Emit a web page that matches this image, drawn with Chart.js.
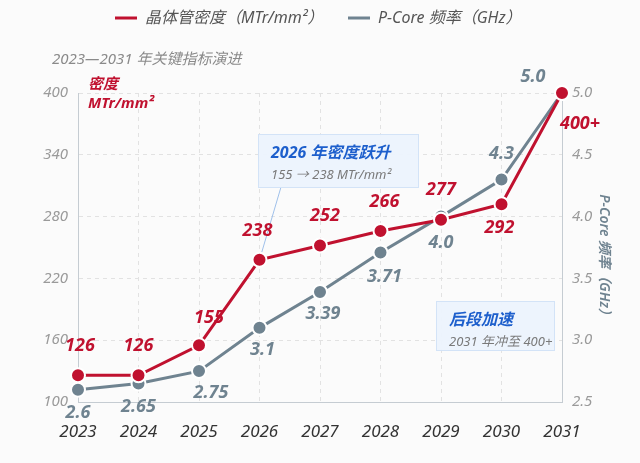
<!DOCTYPE html>
<html><head><meta charset="utf-8">
<script src="https://cdn.jsdelivr.net/npm/chart.js@4"></script>
<style>html,body{margin:0;padding:0;background:#fbfbfb;}#wrap{width:640px;height:463px;position:relative;}</style>
</head><body><div id="wrap"><canvas id="c" width="640" height="463"></canvas></div>
<script>
const years = ['2023','2024','2025','2026','2027','2028','2029','2030','2031'];
const density = [126,126,155,238,252,266,277,292,400];
const densityLabels = ['126','126','155','238','252','266','277','292','400+'];
const freq = [2.6,2.65,2.75,3.1,3.39,3.71,4.0,4.3,5.0];
const freqLabels = ['2.6','2.65','2.75','3.1','3.39','3.71','4.0','4.3','5.0'];
const leftTicks = [100,160,220,280,340,400];
const rightTicks = [2.5,3.0,3.5,4.0,4.5,5.0];

const RED='#c0112f', GRAY='#6f8390', BLUE='#1d5fcc';
const FONT='"Noto Sans", "Noto Sans CJK SC", sans-serif';
// label offsets (style only)
const redOff = [[2,-29],[0,-29],[10,-27],[-2,-29],[5,-30],[4,-29],[0,-30],[-2,24],[18,31]];
const grayOff = [[0,23],[0,23],[12,22],[3,22],[3,22],[4,24],[0,26],[0,-26],[-29,-16]];

const overlay = {
  id:'overlay',
  beforeDatasetsDraw(chart){
    const ctx=chart.ctx;
    const xs=chart.scales.x, ys=chart.scales.y;
    ctx.save();
    ctx.strokeStyle='#9fc0ea'; ctx.lineWidth=1;
    ctx.beginPath(); ctx.moveTo(281,187); ctx.lineTo(xs.getPixelForValue(3), ys.getPixelForValue(density[3])); ctx.stroke();
    const box=(x,y,w,h,t1,t2)=>{
      ctx.fillStyle='rgba(236,243,253,0.95)'; ctx.strokeStyle='#d3e3f7'; ctx.lineWidth=1;
      ctx.fillRect(x,y,w,h); ctx.strokeRect(x+0.5,y+0.5,w,h);
      ctx.textBaseline='middle'; ctx.textAlign='left';
      ctx.fillStyle=BLUE; ctx.font='italic bold 16px '+FONT; ctx.fillText(t1,x+13,y+19);
      ctx.fillStyle='#7a7a7a'; ctx.font='italic 13px '+FONT; ctx.fillText(t2,x+13,y+41);
    };
    box(258,134,160,53,'2026 年密度跃升','155 → 238 MTr/mm²');
    box(436,301,118,49,'后段加速','2031 年冲至 400+');
    ctx.restore();
  },
  afterDatasetsDraw(chart){
    const ctx=chart.ctx;
    ctx.save();
    ctx.textAlign='center'; ctx.textBaseline='middle';
    ctx.font='italic bold 18px '+FONT;
    const m0=chart.getDatasetMeta(0).data, m1=chart.getDatasetMeta(1).data;
    ctx.fillStyle=GRAY;
    m1.forEach((p,i)=>ctx.fillText(freqLabels[i],p.x+grayOff[i][0],p.y+grayOff[i][1]));
    ctx.fillStyle=RED;
    m0.forEach((p,i)=>ctx.fillText(densityLabels[i],p.x+redOff[i][0],p.y+redOff[i][1]));
    ctx.restore();
  },
  afterDraw(chart){
    const ctx=chart.ctx;
    ctx.save();
    ctx.textBaseline='middle'; ctx.textAlign='left';
    ctx.lineWidth=3; ctx.lineCap='butt';
    ctx.strokeStyle=RED; ctx.beginPath(); ctx.moveTo(115,18); ctx.lineTo(137,18); ctx.stroke();
    ctx.strokeStyle=GRAY; ctx.beginPath(); ctx.moveTo(348,18); ctx.lineTo(370,18); ctx.stroke();
    ctx.fillStyle='#555'; ctx.font='italic 16px '+FONT;
    ctx.fillText('晶体管密度（MTr/mm²）',145,18);
    ctx.fillText('P-Core 频率（GHz）',378,18);
    ctx.fillStyle='#8a8a8a'; ctx.font='italic 15px '+FONT;
    ctx.fillText('2023—2031 年关键指标演进',52,60);
    ctx.fillStyle=RED; ctx.font='italic bold 15px '+FONT;
    ctx.fillText('密度',88,85);
    ctx.fillText('MTr/mm²',88,104);
    ctx.translate(604,258); ctx.rotate(Math.PI/2);
    ctx.textAlign='center'; ctx.fillStyle=GRAY; ctx.font='italic 600 14px '+FONT;
    ctx.fillText('P-Core 频率（GHz）',0,0);
    ctx.restore();
  }
};

new Chart(document.getElementById('c'),{
  type:'line',
  data:{labels:years,datasets:[
    {label:'晶体管密度（MTr/mm²）',data:density,yAxisID:'y',borderColor:RED,backgroundColor:RED,borderWidth:3,
     pointRadius:7,pointBorderColor:'#fff',pointBorderWidth:2,pointBackgroundColor:RED,clip:false,order:0,tension:0},
    {label:'P-Core 频率（GHz）',data:freq,yAxisID:'y1',borderColor:GRAY,backgroundColor:GRAY,borderWidth:3,
     pointRadius:7,pointBorderColor:'#fff',pointBorderWidth:2,pointBackgroundColor:GRAY,clip:false,order:1,tension:0}
  ]},
  options:{
    responsive:false,animation:false,
    layout:{padding:{top:93,left:0,right:0,bottom:0}},
    plugins:{legend:{display:false},tooltip:{enabled:false}},
    scales:{
      x:{offset:false,
        grid:{color:'#e2e2e2',drawTicks:false,tickLength:0},
        border:{display:true,color:'#c5ccd2',dash:[4,4],width:1},
        ticks:{color:'#333',font:{family:FONT,size:17,style:'italic'},padding:20,maxRotation:0},
        afterFit(s){s.height=61;}
      },
      y:{position:'left',min:100,max:400,
        afterBuildTicks(s){s.ticks=leftTicks.map(v=>({value:v}));},
        grid:{color:'#e2e2e2',drawTicks:false},
        border:{display:true,color:'#c5ccd2',dash:[4,4]},
        ticks:{color:'#9a9a9a',font:{family:FONT,size:15,style:'italic'},padding:10},
        afterFit(s){s.width=78;}
      },
      y1:{position:'right',min:2.5,max:5.0,
        afterBuildTicks(s){s.ticks=rightTicks.map(v=>({value:v}));},
        grid:{drawOnChartArea:false,drawTicks:false},
        border:{display:true,color:'#c5ccd2'},
        ticks:{color:'#9a9a9a',font:{family:FONT,size:15,style:'italic'},padding:10,callback:v=>Number(v).toFixed(1)},
        afterFit(s){s.width=78;}
      }
    }
  },
  plugins:[overlay]
});
</script></body></html>
